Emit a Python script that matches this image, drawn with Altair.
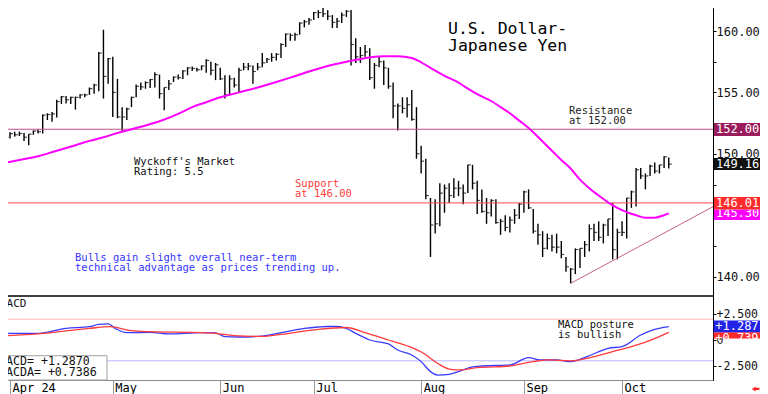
import altair as alt
import pandas as pd

FONT = "DejaVu Sans Mono"

# ---------------- price bars (trading-day index, 0 = 1 Apr 2024) ----------------
bar_idx = list(range(-2, 142))
high = [151.45, 151.5, 151.75, 151.8, 151.8, 151.7, 151.6, 151.9, 152.0, 153.2,
        153.3, 153.4, 154.4, 154.7, 154.7, 154.65, 154.65, 154.85, 154.9, 155.4,
        155.7, 158.3, 160.1, 157.8, 157.9, 156.1, 153.8, 153.75, 154.65, 155.65,
        155.8, 155.9, 156.1, 156.65, 156.45, 155.4, 156.0, 156.3, 156.45, 156.8,
        157.05, 157.1, 157.0, 157.2, 157.7, 157.5, 157.4, 157.0, 156.4, 156.4,
        156.2, 157.0, 157.4, 157.4, 157.2, 157.4, 158.2, 157.8, 158.2, 158.2,
        159.0, 159.8, 159.8, 159.85, 160.7, 160.9, 161.05, 161.55, 161.7, 161.95,
        161.7, 161.3, 161.05, 161.5, 161.7, 161.7, 159.4, 158.7, 158.85, 158.6,
        157.4, 157.9, 157.6, 157.0, 155.8, 154.1, 154.6, 154.6, 155.2, 153.8,
        150.65, 149.6, 146.4, 146.3, 147.6, 147.5, 147.6, 148.0, 147.8, 147.5,
        149.1, 149.1, 147.8, 147.1, 146.4, 146.3, 146.3, 144.7, 145.0, 144.9,
        145.5, 146.0, 147.0, 147.1, 145.5, 144.3, 143.7, 143.5, 143.4, 143.5,
        142.9, 141.6, 140.7, 142.3, 142.3, 142.9, 144.25, 144.3, 144.5, 144.3,
        144.7, 146.0, 143.9, 144.5, 146.4, 147.0, 148.85, 148.85, 148.4, 149.1,
        149.3, 149.1, 149.8, 149.7]
low = [151.15, 151.25, 151.25, 151.4, 151.45, 151.05, 150.7, 151.55, 151.65, 151.65,
       152.75, 152.6, 152.95, 154.05, 154.1, 154.05, 153.6, 154.5, 154.6, 154.8,
       154.9, 155.1, 154.5, 155.7, 153.0, 152.9, 151.8, 152.75, 153.8, 154.6,
       155.2, 155.3, 155.35, 155.4, 154.5, 153.55, 155.2, 155.85, 156.05, 156.1,
       156.4, 156.75, 156.7, 156.8, 156.6, 156.4, 156.0, 156.0, 154.5, 154.75,
       155.4, 155.0, 156.8, 156.8, 155.7, 156.8, 157.05, 157.4, 157.5, 157.6,
       157.8, 158.7, 159.2, 159.2, 159.7, 160.3, 160.5, 160.9, 161.05, 161.15,
       160.9, 160.25, 160.25, 160.65, 161.15, 157.2, 157.4, 157.4, 157.9, 156.0,
       155.3, 157.05, 155.6, 155.3, 152.9, 151.9, 153.3, 152.95, 152.7, 149.6,
       148.4, 146.3, 141.6, 143.5, 144.1, 145.2, 146.0, 146.4, 146.55, 145.9,
       146.8, 147.1, 145.1, 145.2, 144.3, 144.9, 144.3, 143.4, 143.7, 143.6,
       144.3, 144.7, 145.2, 145.5, 143.5, 142.6, 141.6, 142.2, 142.05, 141.9,
       141.5, 140.4, 139.45, 140.2, 140.7, 141.6, 142.05, 142.9, 142.9, 142.7,
       143.3, 141.4, 141.4, 143.3, 143.1, 145.6, 145.7, 147.95, 147.1, 148.2,
       148.4, 148.4, 148.85, 148.8]
close = [151.35, 151.35, 151.65, 151.55, 151.65, 151.35, 151.6, 151.85, 151.8, 153.15,
         153.2, 153.25, 154.25, 154.65, 154.4, 154.6, 154.6, 154.8, 154.8, 155.3,
         155.6, 158.2, 156.3, 157.75, 155.0, 153.0, 153.0, 153.65, 154.6, 155.5,
         155.45, 155.8, 156.05, 156.45, 154.9, 155.4, 155.7, 156.25, 156.2, 156.75,
         157.0, 156.95, 156.85, 157.15, 157.6, 156.8, 157.25, 156.1, 154.8, 156.1,
         155.6, 156.8, 157.05, 157.15, 156.7, 157.05, 157.4, 157.7, 157.85, 158.1,
         158.9, 159.75, 159.65, 159.7, 160.65, 160.75, 160.9, 161.5, 161.5, 161.4,
         161.2, 160.7, 160.8, 161.3, 161.6, 158.9, 157.9, 158.0, 158.3, 156.2,
         157.2, 157.5, 157.0, 155.5, 153.9, 153.9, 153.7, 154.0, 152.8, 150.0,
         149.4, 146.6, 144.2, 144.3, 146.8, 147.2, 146.6, 147.2, 147.2, 146.8,
         149.1, 147.6, 146.2, 145.3, 145.2, 146.2, 144.4, 144.5, 144.0, 144.6,
         145.0, 145.9, 146.9, 145.6, 143.7, 143.4, 142.3, 143.1, 142.4, 142.4,
         141.8, 140.8, 140.6, 142.2, 142.3, 142.6, 143.9, 143.6, 143.2, 144.2,
         144.7, 142.2, 143.6, 143.6, 146.4, 146.9, 148.7, 148.2, 148.2, 149.0,
         148.6, 149.1, 149.75, 149.16]

# moving average
ma_idx = [-2, 2, 6, 10, 14, 17, 20, 24, 28, 32, 36, 39, 42, 45, 49, 53, 57, 60, 64, 68,
          72, 77, 80, 83, 86, 88, 90, 93, 96, 98, 100, 103, 105, 107, 109, 111, 114, 116,
          118, 120, 122, 124, 126, 128, 130, 132, 134, 136, 138, 140, 141]
ma_val = [149.2, 149.5, 149.8, 150.25, 150.7, 151.05, 151.35, 151.8, 152.2, 152.65,
          153.25, 153.8, 154.2, 154.6, 155.0, 155.4, 155.85, 156.2, 156.7, 157.15,
          157.5, 157.85, 157.95, 157.95, 157.8, 157.45, 157.0, 156.35, 155.8, 155.3,
          154.85, 154.3, 153.8, 153.3, 152.7, 152.1, 151.0, 150.25, 149.5, 148.8,
          147.9, 147.2, 146.6, 146.05, 145.6, 145.25, 145.0, 144.8, 144.8, 145.0, 145.15]

# MACD and its signal line
macd_idx = [-2, 6, 12, 17, 19, 21, 22.5, 25, 30, 34, 41, 44, 46, 49, 54, 58, 63, 66, 68,
            70, 72, 74, 77, 81, 83, 86, 88, 90, 91.5, 94, 96, 98.5, 101, 107, 111, 113.5,
            117, 120, 123.5, 128, 131, 135, 137.5, 141]
macd_val = [0.64, 0.64, 1.12, 1.28, 1.5, 1.55, 1.12, 0.7, 0.74, 0.58, 0.7, 0.68, 0.32, 0.29,
            0.38, 0.7, 1.12, 1.25, 1.3, 1.3, 1.12, 0.64, 0.0, -0.38, -0.96, -1.44, -2.08,
            -3.04, -3.37, -3.3, -3.04, -2.63, -2.5, -2.4, -1.7, -1.92, -1.92, -2.08, -1.6,
            -0.8, -0.64, 0.48, 0.96, 1.287]
sig_idx = [-2, 6, 17, 21.4, 26, 30, 41, 44, 48, 54, 58, 66, 72, 76, 81, 85.5, 88.5, 91.5,
           94, 96.5, 100, 107, 112, 115.5, 120, 125, 129, 132.5, 136.3, 141]
sig_val = [0.4, 0.58, 1.12, 1.28, 0.9, 0.8, 0.7, 0.64, 0.42, 0.35, 0.54, 1.03, 1.2, 0.7,
           0.0, -0.64, -1.28, -2.24, -2.79, -2.88, -2.66, -2.5, -2.08, -1.92, -2.0, -1.6,
           -1.12, -0.7, -0.16, 0.739]

month_idx = [0, 22, 45, 65, 88, 110, 131]
month_lbl = ["Apr 24", "May", "Jun", "Jul", "Aug", "Sep", "Oct"]

price_ticks = [140 + 2.5 * k for k in range(10)]
macd_ticks = [-2.5, 0, 2.5]

# scales (plot rect = 705 x 372)
xs = alt.Scale(domain=[-0.428, 150.47], nice=False, zero=False)
ps = alt.Scale(domain=[131.58, 161.873], nice=False, zero=False)
ms = alt.Scale(domain=[-3.846, 31.923], nice=False, zero=False)

bars = pd.DataFrame({"i": bar_idx, "high": high, "low": low, "close": close})
ma = pd.DataFrame({"i": ma_idx, "v": ma_val})
macd = pd.concat([
    pd.DataFrame({"i": macd_idx, "v": macd_val, "s": "MACD", "c": "#3a3aff"}),
    pd.DataFrame({"i": sig_idx, "v": sig_val, "s": "MACDA", "c": "#ff3a3a"}),
])

label_expr = " : ".join(f"datum.value == {v} ? '{l}'" for v, l in zip(month_idx, month_lbl)) + " : ''"

x_axis = alt.Axis(values=month_idx, labelExpr=label_expr, title=None, grid=False, orient="bottom",
                  tickSize=14, tickColor="#9a9a9a", domainColor="#8a8a8a", labelAlign="left",
                  labelBaseline="top", labelPadding=-12, labelOffset=2, labelFont=FONT,
                  labelFontSize=12, labelColor="#000", labelFlush=False, labelOverlap=False)
price_axis = alt.Axis(orient="right", values=price_ticks, title=None, grid=False,
                      labelExpr="datum.value % 5 == 0 ? format(datum.value, '.2f') : ''",
                      tickSize=3, tickColor="#000", domainColor="#000", labelFont=FONT,
                      labelFontSize=12, labelPadding=0, labelColor="#111",
                      labelOverlap=False, labelFlush=False)
macd_axis = alt.Axis(orient="right", values=macd_ticks, title=None, grid=False,
                     labelExpr="datum.value > 0 ? '+' + format(datum.value, '.3f') : datum.value < 0 ? '-' + format(-datum.value, '.3f') : '0'",
                     tickSize=3, tickColor="#000", domainColor="#000", labelFont=FONT,
                     labelFontSize=11.5, labelPadding=0, labelColor="#111",
                     labelOverlap=False, labelFlush=False)

# every layer carries the same axis definition so the merged axes stay enabled
X = lambda f: alt.X(f, scale=xs, axis=x_axis)
P = lambda f: alt.Y(f, scale=ps, axis=price_axis)
M = lambda f: alt.Y(f, scale=ms, axis=macd_axis)

# ---------------- price panel ----------------
hl = alt.Chart(bars).mark_rule(color="#000", strokeWidth=1.4, clip=True).encode(
    x=X("i:Q"), y=P("low:Q"), y2="high:Q")
ct = alt.Chart(bars).mark_tick(orient="horizontal", color="#000", size=3, thickness=1.2,
                               xOffset=1.5, clip=True).encode(x=X("i:Q"), y=P("close:Q"))

levels = pd.DataFrame({"level": [152.0, 146.0], "c": ["#c4508a", "#ff4a4a"]})
hlines = alt.Chart(levels).mark_rule(strokeWidth=1, clip=True).encode(
    y=P("level:Q"), color=alt.Color("c:N", scale=None))

trend = pd.DataFrame({"i": [120, 150.47], "p": [139.45, 145.69]})
trend_line = alt.Chart(trend).mark_line(color="#c8608f", strokeWidth=1, clip=True).encode(
    x=X("i:Q"), y=P("p:Q"))

ma_line = alt.Chart(ma).mark_line(color="#ff00ff", strokeWidth=2, interpolate="monotone",
                                  clip=True).encode(x=X("i:Q"), y=P("v:Q"))

ann = pd.DataFrame({
    "t": ["U.S. Dollar-", "Japanese Yen", "Resistance", "at 152.00", "Wyckoff's Market",
          "Rating: 5.5", "Support", "at 146.00", "Bulls gain slight overall near-term",
          "technical advantage as prices trending up."],
    "i": [93.75, 93.75, 119.65, 119.65, 26.54, 26.54, 61.0, 61.0, 13.91, 13.91],
    "p": [160.14, 158.8, 153.49, 152.67, 149.36, 148.49, 147.52, 146.70, 141.54, 140.68],
    "c": ["#000", "#000", "#222", "#222", "#111", "#111", "#ff3b3b", "#ff3b3b", "#3535ff", "#3535ff"],
    "fs": [16.5, 16.5, 10.5, 10.5, 10.5, 10.5, 10.5, 10.5, 10.5, 10.5],
})
ann_text = alt.Chart(ann).mark_text(align="left", baseline="middle", font=FONT).encode(
    x=X("i:Q"), y=P("p:Q"), text="t:N", color=alt.Color("c:N", scale=None),
    size=alt.Size("fs:Q", scale=None))

# value boxes on the price axis (drawn bottom-most first)
pbox = pd.DataFrame({
    "t": ["145.30", "146.01", "149.16", "152.00"],
    "top": [145.46, 146.48, 149.66, 152.51],
    "bot": [144.61, 145.46, 148.68, 151.45],
    "tp": [145.2, 145.99, 149.17, 151.98],
    "c": ["#ff00ff", "#ff2a2a", "#111111", "#9a1c5c"],
    "x0": [150.68] * 4, "x1": [160.6] * 4, "xt": [151.1] * 4,
})
pbox_layers = []
for k in range(len(pbox)):
    sub = pbox.iloc[[k]]
    pbox_layers.append(alt.Chart(sub).mark_rect().encode(
        x=X("x0:Q"), x2="x1:Q", y=P("top:Q"), y2="bot:Q", color=alt.Color("c:N", scale=None)))
    pbox_layers.append(alt.Chart(sub).mark_text(align="left", baseline="middle", font=FONT,
                                                fontSize=12, color="#fff").encode(
        x=X("xt:Q"), y=P("tp:Q"), text="t:N"))

price_layer = alt.layer(hl, ct, hlines, trend_line, ma_line, ann_text, *pbox_layers)

# ---------------- MACD panel ----------------
mrefs = pd.DataFrame({"v": [2.0, -2.0], "c": ["#ffb3b3", "#b8b8ff"]})
mref = alt.Chart(mrefs).mark_rule(strokeWidth=1, clip=True).encode(
    y=M("v:Q"), color=alt.Color("c:N", scale=None))
sep = alt.Chart(pd.DataFrame({"v": [4.23]})).mark_rule(color="#000", strokeWidth=1.6).encode(
    y=M("v:Q"))
macd_lines = alt.Chart(macd).mark_line(strokeWidth=1.3, interpolate="monotone", clip=True).encode(
    x=X("i:Q"), y=M("v:Q"), detail="s:N", color=alt.Color("c:N", scale=None))

vbox = pd.DataFrame({"x0": [-2.4], "x1": [20.76], "top": [-1.51], "bot": [-3.846]})
vbox_rect = alt.Chart(vbox).mark_rect(fill="#fff", stroke="#a0a0a0", strokeWidth=1).encode(
    x=X("x0:Q"), x2="x1:Q", y=M("top:Q"), y2="bot:Q")

mann = pd.DataFrame({
    "t": ["MACD", "MACD posture", "is bullish", "MACD=  +1.2870", "MACDA= +0.7386"],
    "i": [-2.14, 117.3, 117.3, -2.35, -2.35],
    "v": [3.46, 1.44, 0.48, -2.09, -3.2],
    "fs": [11, 10.5, 10.5, 11.6, 11.6],
})
mann_text = alt.Chart(mann).mark_text(align="left", baseline="middle", font=FONT,
                                      color="#111").encode(
    x=X("i:Q"), y=M("v:Q"), text="t:N", size=alt.Size("fs:Q", scale=None))

mbox = pd.DataFrame({
    "t": ["+0.739", "+1.287"],
    "top": [0.74, 1.875], "bot": [0.15, 0.74], "tv": [0.24, 1.3],
    "c": ["#ff2a2a", "#2323e6"],
    "x0": [150.6] * 2, "x1": [160.6] * 2, "xt": [150.95] * 2,
})
mbox_layers = []
for k in range(len(mbox)):
    sub = mbox.iloc[[k]]
    mbox_layers.append(alt.Chart(sub).mark_rect().encode(
        x=X("x0:Q"), x2="x1:Q", y=M("top:Q"), y2="bot:Q", color=alt.Color("c:N", scale=None)))
    mbox_layers.append(alt.Chart(sub).mark_text(align="left", baseline="middle", font=FONT,
                                                fontSize=12, color="#fff").encode(
        x=X("xt:Q"), y=M("tv:Q"), text="t:N"))

arrow = alt.Chart(pd.DataFrame({"i": [159.6], "v": [-4.71]})).mark_point(
    shape="M-1,0L0,-0.7L0,-0.3L1,-0.3L1,0.3L0,0.3L0,0.7Z", filled=True, color="#ff2020",
    opacity=1, size=55).encode(x=X("i:Q"), y=M("v:Q"))

macd_layer = alt.layer(mref, sep, macd_lines, vbox_rect, mann_text, *mbox_layers, arrow)

chart = alt.layer(price_layer, macd_layer).resolve_scale(y="independent").properties(
    width=705, height=372,
    padding={"left": 0, "top": 0, "right": 47, "bottom": 14},
    autosize=alt.AutoSizeParams(type="none"),
    background="white",
).configure_view(stroke=None)

chart.save("out.html", embed_options={"renderer": "svg", "actions": False})
